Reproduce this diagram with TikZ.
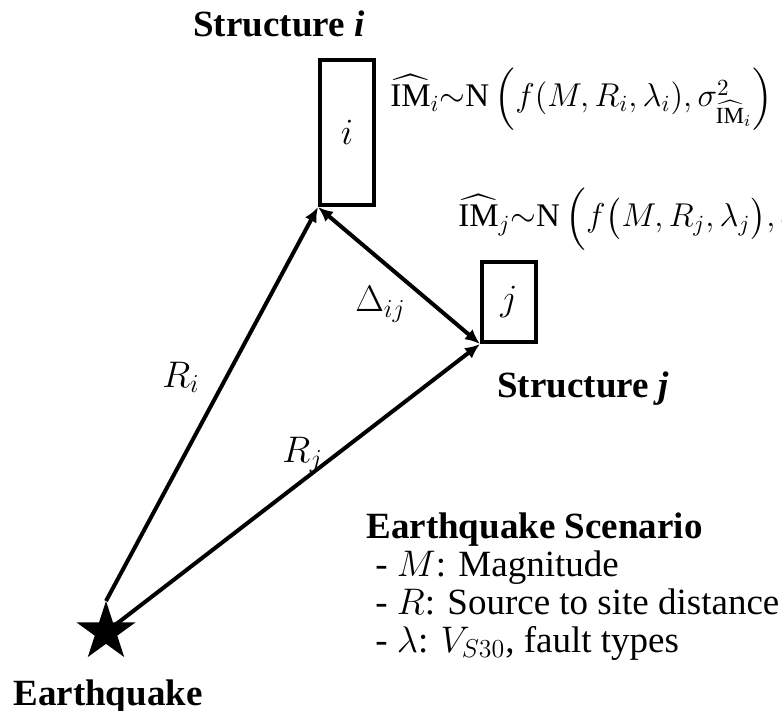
\RequirePackage{fix-cm}
\documentclass[tikz,border=0pt]{standalone}
\usepackage{amsmath}
\usepackage{fontspec}
\setmainfont{Liberation Serif}
\usetikzlibrary{shapes.geometric, arrows.meta}

\begin{document}
\begin{tikzpicture}[
    x=0.5pt, y=-0.5pt,
    struct/.style={rectangle, draw=black, line width=2pt, inner sep=0pt,
                   font=\fontsize{18.5}{20}\selectfont},
    lbl/.style={anchor=base west, inner sep=0pt,
                font=\fontsize{18.5}{19}\selectfont},
    formula/.style={lbl, font=\fontsize{16.5}{18}\selectfont},
    arr/.style={-{Latex[length=7.5pt,width=6.5pt]}, line width=2pt},
]
\useasboundingbox (0,0) rectangle (782,711);

%% Structures and source
\node[struct, minimum width=27pt, minimum height=72.5pt] (boxi) at (347,132.5) {$i$};
\node[struct, minimum width=27pt, minimum height=40pt]   (boxj) at (509,302)   {$j$};
\node[star, star points=5, star point ratio=2.618, fill=black,
      minimum size=31pt, inner sep=0pt, outer sep=0pt] (quake) at (106,632) {};

%% Titles
\node[lbl] (structi) at (193,37)  {\textbf{Structure \textit{i}}};
\node[lbl] (structj) at (497,397) {\textbf{Structure \textit{j}}};
\node[lbl] (eqk)     at (13,705)  {\textbf{Earthquake}};

%% Intensity measures
\node[formula] (imi) at (390,107)
    {$\widehat{\mathrm{IM}}_i{\sim}\mathrm{N}\left(f(M,R_i,\lambda_i),\sigma^2_{\widehat{\mathrm{IM}}_i}\right)$};
\node[formula] (imj) at (458,227)
    {$\widehat{\mathrm{IM}}_j{\sim}\mathrm{N}\left(f\bigl(M,R_j,\lambda_j\bigr),\sigma^2_{\widehat{\mathrm{IM}}_j}\right)$};

%% Distances
\node[lbl] (ri)  at (162,387) {$R_i$};
\node[lbl] (rj)  at (282,462) {$R_j$};
\node[lbl] (dij) at (355,312) {$\Delta_{ij}$};

%% Scenario
\node[lbl, anchor=north west, align=left] (scen) at (366,512)
    {\textbf{Earthquake Scenario}\\
     \hspace*{4.5pt}- $M$: Magnitude\\
     \hspace*{4.5pt}- $R$: Source to site distance\\
     \hspace*{4.5pt}- $\lambda$: $V_{S30}$, fault types};

%% Arrows
\draw[arr] (quake.outer point 1) -- (boxi.south west);
\draw[arr] (quake.center)        -- (boxj.south west);
\draw[arr, {Latex[length=7.5pt,width=6.5pt]}-{Latex[length=7.5pt,width=6.5pt]}]
    (boxi.south west) -- (boxj.south west);
\end{tikzpicture}
\end{document}
